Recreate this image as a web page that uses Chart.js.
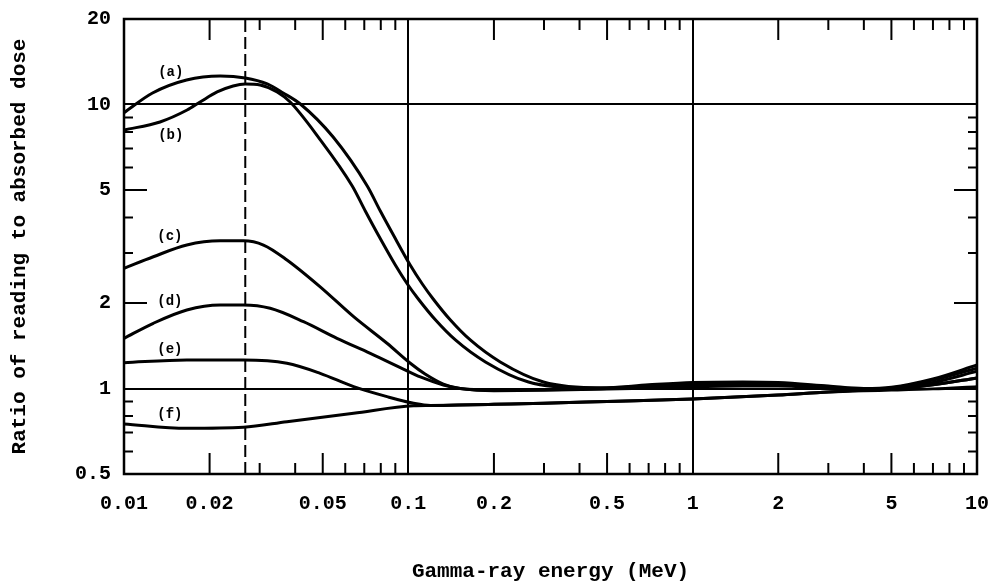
<!DOCTYPE html>
<html lang="en">
<head>
    <meta charset="UTF-8">
    <title>Ratio of reading to absorbed dose</title>
    <script src="https://cdn.jsdelivr.net/npm/chart.js"></script>
    <style>
        body {
            margin: 0;
            background-color: #fff;
        }

        .chart-container {
            width: 988px;
            height: 584px;
        }
    </style>
</head>
<body>

    <div class="chart-container">
        <canvas id="doseChart"></canvas>
    </div>

    <script>
        // Values (energy in MeV, ratio of reading to absorbed dose)
        const energyA = [0.01, 0.0126, 0.0166, 0.0218, 0.0267, 0.0319, 0.0363, 0.0417, 0.0544, 0.0717, 0.0797, 0.0886, 0.1015, 0.112, 0.1223, 0.1406, 0.1651, 0.2105, 0.2987, 0.4757, 0.7, 1, 1.5, 2, 3, 4, 5, 7, 10];
        const ratioA  = [9.36, 10.98, 12.2, 12.6, 12.4, 11.81, 10.98, 10.04, 7.68, 5.164, 4.217, 3.471, 2.722, 2.333, 2.066, 1.742, 1.482, 1.24, 1.054, 1.004, 1.03, 1.05, 1.055, 1.05, 1.02, 1.0, 1.01, 1.08, 1.21];

        const energyB = [0.01, 0.01339, 0.01667, 0.01852, 0.02126, 0.0242, 0.0267, 0.03012, 0.03457, 0.03841, 0.04822, 0.0635, 0.07057, 0.0784, 0.09, 0.0992, 0.1084, 0.1247, 0.1464, 0.1867, 0.2646, 0.42, 0.7, 1, 1.5, 2, 3, 4, 5, 7, 10];
        const ratioB  = [8.13, 8.68, 9.56, 10.2, 11.07, 11.62, 11.81, 11.71, 11.07, 10.2, 7.68, 5.164, 4.217, 3.471, 2.722, 2.333, 2.066, 1.742, 1.482, 1.24, 1.054, 1.004, 1.02, 1.04, 1.045, 1.04, 1.015, 0.995, 1.005, 1.07, 1.18];

        const energyC = [0.01, 0.01268, 0.01663, 0.02178, 0.0263, 0.03094, 0.03741, 0.04898, 0.0642, 0.08414, 0.1016, 0.1145, 0.1328, 0.152, 0.2, 0.3, 0.5, 0.7, 1, 1.5, 2, 3, 4, 5, 7, 10];
        const ratioC  = [2.65, 2.91, 3.2, 3.31, 3.31, 3.2, 2.835, 2.28, 1.79, 1.443, 1.227, 1.125, 1.037, 1.0, 0.988, 0.99, 1.0, 1.015, 1.03, 1.035, 1.03, 1.01, 0.99, 1.0, 1.05, 1.15];

        const energyD = [0.01, 0.01268, 0.01663, 0.02178, 0.0263, 0.03266, 0.04279, 0.0561, 0.07348, 0.09604, 0.1102, 0.1328, 0.1524, 0.2, 0.3, 0.5, 0.7, 1, 1.5, 2, 3, 4, 5, 7, 10];
        const ratioD  = [1.502, 1.697, 1.89, 1.968, 1.968, 1.916, 1.719, 1.502, 1.33, 1.171, 1.098, 1.029, 1.0, 0.982, 0.985, 0.995, 1.005, 1.015, 1.02, 1.02, 1.0, 0.99, 0.995, 1.03, 1.09];

        const energyE = [0.01, 0.01663, 0.0263, 0.03741, 0.04898, 0.0642, 0.08414, 0.1044, 0.1196, 0.15, 0.2, 0.3, 0.5, 1, 2, 3, 4, 5, 7, 10];
        const ratioE  = [1.233, 1.26, 1.26, 1.227, 1.131, 1.015, 0.936, 0.887, 0.871, 0.875, 0.88, 0.887, 0.9, 0.918, 0.948, 0.972, 0.985, 0.995, 1.03, 1.09];

        const energyF = [0.01, 0.01663, 0.0263, 0.03741, 0.0642, 0.1044, 0.1196, 0.15, 0.2, 0.3, 0.5, 1, 2, 3, 4, 5, 7, 10];
        const ratioF  = [0.75, 0.724, 0.73, 0.764, 0.818, 0.869, 0.871, 0.875, 0.88, 0.887, 0.9, 0.918, 0.948, 0.972, 0.982, 0.987, 0.997, 1.015];

        // dashed marker energy
        const dashedEnergy = 0.0267;

        // curve labels and where they sit (data units)
        const curveLabels = ['(a)', '(b)', '(c)', '(d)', '(e)', '(f)'];
        const labelEnergy = [0.0146, 0.0146, 0.0145, 0.0145, 0.0145, 0.0145];
        const labelRatio  = [13.0, 7.75, 3.44, 2.02, 1.37, 0.813];

        // axis ticks
        const xTickValues = [0.01, 0.02, 0.05, 0.1, 0.2, 0.5, 1, 2, 5, 10];
        const yTickValues = [0.5, 1, 2, 5, 10, 20];
        const xGridValues = [0.1, 1];
        const yGridValues = [1, 10];
        const xLongTicks  = [0.02, 0.05, 0.2, 0.5, 2, 5];
        const xShortTicks = [0.03, 0.04, 0.06, 0.07, 0.08, 0.09, 0.3, 0.4, 0.6, 0.7, 0.8, 0.9, 3, 4, 6, 7, 8, 9];
        const yLongTicks  = [2, 5];
        const yShortTicks = [0.6, 0.7, 0.8, 0.9, 3, 4, 6, 7, 8, 9];

        function toPoints(xs, ys) {
            return xs.map((v, i) => ({ x: v, y: ys[i] }));
        }

        // inward tick marks, plot frame and curve labels
        const frameAndLabels = {
            id: 'frameAndLabels',
            afterDatasetsDraw(chart) {
                const { ctx, chartArea: a, scales: { x, y } } = chart;
                ctx.save();
                ctx.strokeStyle = '#000';
                ctx.lineWidth = 2;
                ctx.beginPath();
                const xTick = (v, len) => {
                    const px = x.getPixelForValue(v);
                    ctx.moveTo(px, a.bottom); ctx.lineTo(px, a.bottom - len);
                    ctx.moveTo(px, a.top); ctx.lineTo(px, a.top + len);
                };
                const yTick = (v, len) => {
                    const py = y.getPixelForValue(v);
                    ctx.moveTo(a.left, py); ctx.lineTo(a.left + len, py);
                    ctx.moveTo(a.right, py); ctx.lineTo(a.right - len, py);
                };
                xLongTicks.forEach(v => xTick(v, 21));
                xShortTicks.forEach(v => xTick(v, 11));
                yLongTicks.forEach(v => yTick(v, 23));
                yShortTicks.forEach(v => yTick(v, 9));
                ctx.stroke();

                ctx.lineWidth = 2.5;
                ctx.strokeRect(a.left, a.top, a.right - a.left, a.bottom - a.top);

                ctx.fillStyle = '#000';
                ctx.font = 'bold 14px "Liberation Mono"';
                ctx.textAlign = 'center';
                ctx.textBaseline = 'middle';
                curveLabels.forEach((t, i) => {
                    ctx.fillText(t, x.getPixelForValue(labelEnergy[i]), y.getPixelForValue(labelRatio[i]));
                });
                ctx.restore();
            }
        };

        const curveStyle = {
            borderColor: '#000',
            borderWidth: 3,
            pointRadius: 0,
            fill: false,
            cubicInterpolationMode: 'monotone'
        };

        const datasets = [
            { label: '(a)', data: toPoints(energyA, ratioA), ...curveStyle },
            { label: '(b)', data: toPoints(energyB, ratioB), ...curveStyle },
            { label: '(c)', data: toPoints(energyC, ratioC), ...curveStyle },
            { label: '(d)', data: toPoints(energyD, ratioD), ...curveStyle },
            { label: '(e)', data: toPoints(energyE, ratioE), ...curveStyle },
            { label: '(f)', data: toPoints(energyF, ratioF), ...curveStyle },
            {
                label: 'marker',
                data: [{ x: dashedEnergy, y: 0.5 }, { x: dashedEnergy, y: 20 }],
                borderColor: '#000',
                borderWidth: 2,
                borderDash: [12, 5],
                pointRadius: 0,
                fill: false
            }
        ];

        Chart.defaults.font.family = '"Liberation Mono", monospace';
        Chart.defaults.color = '#000';

        new Chart(document.getElementById('doseChart'), {
            type: 'line',
            data: { datasets: datasets },
            options: {
                responsive: true,
                maintainAspectRatio: false,
                animation: false,
                layout: { padding: { top: 19, right: 11, left: 0, bottom: 0 } },
                plugins: {
                    legend: { display: false },
                    tooltip: { enabled: false }
                },
                scales: {
                    x: {
                        type: 'logarithmic',
                        min: 0.01,
                        max: 10,
                        afterBuildTicks: axis => { axis.ticks = xTickValues.map(v => ({ value: v })); },
                        afterFit: axis => {
                            axis.height = 110;
                            axis.paddingLeft = 0;
                            axis.paddingRight = 0;
                        },
                        ticks: {
                            autoSkip: false,
                            maxRotation: 0,
                            padding: 18,
                            font: { size: 20, weight: 'bold' },
                            callback: v => String(v)
                        },
                        grid: {
                            drawTicks: false,
                            lineWidth: 2,
                            color: c => (c.tick && xGridValues.includes(c.tick.value)) ? '#000' : 'rgba(0,0,0,0)'
                        },
                        border: { display: false },
                        title: {
                            display: true,
                            text: 'Gamma-ray energy (MeV)',
                            font: { size: 21, weight: 'bold' },
                            padding: { top: 0, bottom: 0 }
                        }
                    },
                    y: {
                        type: 'logarithmic',
                        min: 0.5,
                        max: 20,
                        afterBuildTicks: axis => { axis.ticks = yTickValues.map(v => ({ value: v })); },
                        afterFit: axis => {
                            axis.width = 124;
                            axis.paddingTop = 0;
                            axis.paddingBottom = 0;
                        },
                        ticks: {
                            autoSkip: false,
                            padding: 13,
                            font: { size: 20, weight: 'bold' },
                            callback: v => String(v)
                        },
                        grid: {
                            drawTicks: false,
                            lineWidth: 2,
                            color: c => (c.tick && yGridValues.includes(c.tick.value)) ? '#000' : 'rgba(0,0,0,0)'
                        },
                        border: { display: false },
                        title: {
                            display: true,
                            text: 'Ratio of reading to absorbed dose',
                            font: { size: 21, weight: 'bold' },
                            padding: { top: 7, bottom: 0 }
                        }
                    }
                }
            },
            plugins: [frameAndLabels]
        });
    </script>

</body>
</html>
